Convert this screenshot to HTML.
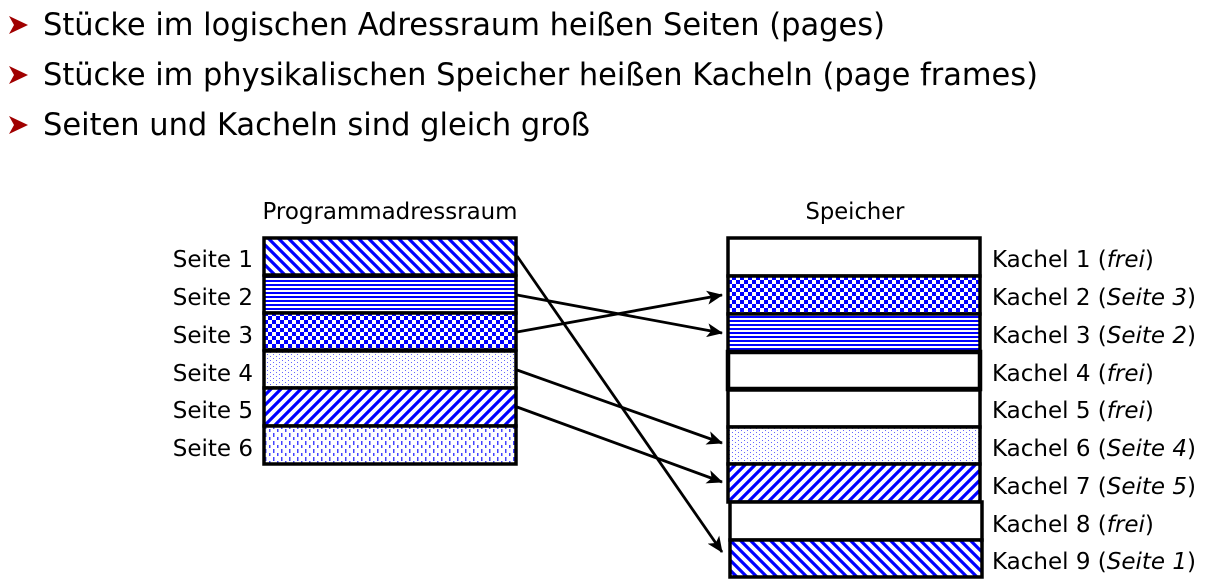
<!DOCTYPE html>
<html><head><meta charset="utf-8"><style>html,body{margin:0;padding:0;background:#fff}svg{display:block}</style></head><body>
<svg width="1217" height="586" viewBox="0 0 1217 586" xmlns="http://www.w3.org/2000/svg" font-family="'DejaVu Sans','Liberation Sans',sans-serif">
<defs>
<pattern id="p1" width="10" height="10" patternUnits="userSpaceOnUse"><rect width="10" height="10" fill="#fff"/><path d="M-2,-2 L12,12 M-2,8 L2,12 M8,-2 L12,2" stroke="#0000ff" stroke-width="3.2"/></pattern>
<pattern id="p5" width="10" height="10" patternUnits="userSpaceOnUse"><rect width="10" height="10" fill="#fff"/><path d="M-2,12 L12,-2 M-2,2 L2,-2 M8,12 L12,8" stroke="#0000ff" stroke-width="3.2"/></pattern>
<pattern id="p2" width="4" height="4" patternUnits="userSpaceOnUse"><rect width="4" height="4" fill="#fff"/><rect y="0" width="4" height="2" fill="#0000ff"/></pattern>
<pattern id="p3" width="8" height="8" patternUnits="userSpaceOnUse"><rect width="8" height="8" fill="#fff"/><rect width="4" height="4" fill="#0000ff"/><rect x="4" y="4" width="4" height="4" fill="#0000ff"/></pattern>
<pattern id="p4" width="6" height="4" patternUnits="userSpaceOnUse"><rect width="6" height="4" fill="#fff"/><rect width="1" height="1" fill="#6666ff"/><rect x="3" y="2" width="1" height="1" fill="#6666ff"/></pattern>
<pattern id="p6" width="8" height="8" patternUnits="userSpaceOnUse"><rect width="8" height="8" fill="#fff"/><rect x="1" y="1" width="1.5" height="4" fill="#4444ff"/><rect x="5" y="5" width="1.5" height="4" fill="#4444ff"/></pattern>
<marker id="ah2" markerWidth="16" markerHeight="14" refX="15" refY="7" orient="auto" markerUnits="userSpaceOnUse"><path d="M0,0 L16,7 L0,14 L4,7 z" fill="#000"/></marker>
</defs>
<g font-size="31" fill="#000">
<path d="M9,16 L28,25 L9,34 L14,25 z" fill="#a00000"/>
<text x="43" y="35" textLength="842" lengthAdjust="spacingAndGlyphs">Stücke im logischen Adressraum heißen Seiten (pages)</text>
<path d="M9,66 L28,75 L9,84 L14,75 z" fill="#a00000"/>
<text x="43" y="85" textLength="995" lengthAdjust="spacingAndGlyphs">Stücke im physikalischen Speicher heißen Kacheln (page frames)</text>
<path d="M9,116 L28,125 L9,134 L14,125 z" fill="#a00000"/>
<text x="43" y="135" textLength="547" lengthAdjust="spacingAndGlyphs">Seiten und Kacheln sind gleich groß</text>
</g>
<g font-size="23" fill="#000">
<text x="390" y="219" text-anchor="middle" textLength="255" lengthAdjust="spacingAndGlyphs">Programmadressraum</text>
<text x="855" y="219" text-anchor="middle" textLength="99" lengthAdjust="spacingAndGlyphs">Speicher</text>
<g text-anchor="end">
<text x="253" y="267">Seite 1</text><text x="253" y="305">Seite 2</text><text x="253" y="343">Seite 3</text>
<text x="253" y="381">Seite 4</text><text x="253" y="418">Seite 5</text><text x="253" y="456">Seite 6</text>
</g>
<text x="992" y="267">Kachel 1 (<tspan font-style="italic">frei</tspan>)</text>
<text x="992" y="305">Kachel 2 (<tspan font-style="italic">Seite 3</tspan>)</text>
<text x="992" y="343">Kachel 3 (<tspan font-style="italic">Seite 2</tspan>)</text>
<text x="992" y="381">Kachel 4 (<tspan font-style="italic">frei</tspan>)</text>
<text x="992" y="418">Kachel 5 (<tspan font-style="italic">frei</tspan>)</text>
<text x="992" y="456">Kachel 6 (<tspan font-style="italic">Seite 4</tspan>)</text>
<text x="992" y="494">Kachel 7 (<tspan font-style="italic">Seite 5</tspan>)</text>
<text x="992" y="532">Kachel 8 (<tspan font-style="italic">frei</tspan>)</text>
<text x="992" y="569">Kachel 9 (<tspan font-style="italic">Seite 1</tspan>)</text>
</g>
<g stroke="#000" stroke-width="3.5">
<rect x="264" y="238" width="252" height="37" fill="url(#p1)"/>
<rect x="264" y="276" width="252" height="37" fill="url(#p2)"/>
<rect x="264" y="313" width="252" height="37" fill="url(#p3)"/>
<rect x="264" y="351" width="252" height="37" fill="url(#p4)"/>
<rect x="264" y="388" width="252" height="38" fill="url(#p5)"/>
<rect x="264" y="426" width="252" height="38" fill="url(#p6)"/>
<rect x="728" y="238" width="252" height="38" fill="#fff"/>
<rect x="728" y="276" width="252" height="38" fill="url(#p3)"/>
<rect x="728" y="314" width="252" height="38" fill="url(#p2)"/>
<rect x="728" y="352" width="252" height="37" fill="#fff" stroke-width="4.5"/>
<rect x="728" y="390" width="252" height="37" fill="#fff"/>
<rect x="728" y="427" width="252" height="37" fill="url(#p4)"/>
<rect x="728" y="464" width="252" height="38" fill="url(#p5)"/>
<rect x="730" y="502" width="252" height="38" fill="#fff"/>
<rect x="730" y="540" width="252" height="37" fill="url(#p1)"/>
</g>
<g stroke="#000" stroke-width="2.8" fill="none">
<line x1="517" y1="256" x2="722" y2="552" marker-end="url(#ah2)"/>
<line x1="517" y1="295" x2="722" y2="333" marker-end="url(#ah2)"/>
<line x1="517" y1="332" x2="722" y2="295" marker-end="url(#ah2)"/>
<line x1="517" y1="370" x2="722" y2="443" marker-end="url(#ah2)"/>
<line x1="517" y1="407" x2="722" y2="482" marker-end="url(#ah2)"/>
</g>
</svg>
</body></html>
